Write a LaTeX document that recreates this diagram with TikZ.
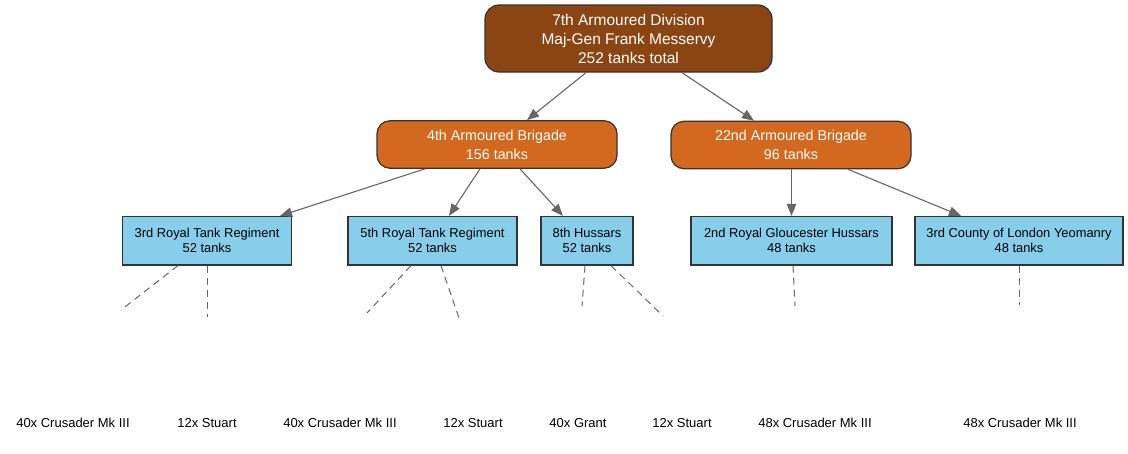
\documentclass[tikz,border=0pt]{standalone}
\usepackage{fontspec}
\setmainfont{Liberation Sans}
\usetikzlibrary{arrows.meta}
\definecolor{divfill}{HTML}{8B4513}
\definecolor{brigfill}{HTML}{D2691E}
\definecolor{regfill}{HTML}{87CEEB}
\definecolor{edgecol}{HTML}{666666}
\definecolor{bordercol}{HTML}{333333}
\tikzset{
  divbox/.style={draw=bordercol, line width=1.2pt, fill=divfill, rounded corners=14pt,
    text=white, align=center, inner sep=0pt, font=\fontsize{15.5}{19}\selectfont},
  brigbox/.style={draw=bordercol, line width=1.2pt, fill=brigfill, rounded corners=13pt,
    text=white, align=center, inner sep=0pt, minimum width=240pt, minimum height=47.5pt,
    font=\fontsize{14.3}{19}\selectfont},
  regbox/.style={draw=bordercol, line width=1.2pt, fill=regfill, text=black,
    align=center, inner sep=0pt, minimum height=48.5pt,
    font=\fontsize{12.9}{15}\selectfont},
  tanklabel/.style={text=black, inner sep=0pt, font=\fontsize{13}{15}\selectfont},
  solidedge/.style={draw=edgecol, line width=1.1pt, -{Triangle[length=12pt,width=9.5pt]}},
  dashedge/.style={draw=edgecol, line width=1pt, dash pattern=on 7pt off 5pt}
}
\begin{document}
\begin{tikzpicture}[x=1pt,y=-1pt]
\useasboundingbox[fill=white] (0,0) rectangle (1128,453);

% division
\node[divbox, minimum width=287pt, minimum height=67pt] (div) at (628.5,38.5)
  {7th Armoured Division\\Maj-Gen Frank Messervy\\252 tanks total};

% brigades
\node[brigbox] (b4) at (497,144.5) {4th Armoured Brigade\\156 tanks};
\node[brigbox] (b22) at (791,145) {22nd Armoured Brigade\\96 tanks};

% regiments
\node[regbox, minimum width=168.5pt] (r3) at (207,240.75) {3rd Royal Tank Regiment\\52 tanks};
\node[regbox, minimum width=169pt] (r5) at (432.5,240.75) {5th Royal Tank Regiment\\52 tanks};
\node[regbox, minimum width=92pt] (h8) at (587,240.75) {8th Hussars\\52 tanks};
\node[regbox, minimum width=201pt] (rgh) at (791.5,240.75) {2nd Royal Gloucester Hussars\\48 tanks};
\node[regbox, minimum width=208pt] (cly) at (1019,240.75) {3rd County of London Yeomanry\\48 tanks};

% tank labels
\node[tanklabel] (t1) at (73,423) {40x Crusader Mk III};
\node[tanklabel] (t2) at (207,423) {12x Stuart};
\node[tanklabel] (t3) at (340,423) {40x Crusader Mk III};
\node[tanklabel] (t4) at (473,423) {12x Stuart};
\node[tanklabel] (t5) at (578,423) {40x Grant};
\node[tanklabel] (t6) at (682,423) {12x Stuart};
\node[tanklabel] (t7) at (815,423) {48x Crusader Mk III};
\node[tanklabel] (t8) at (1020,423) {48x Crusader Mk III};

% free ends of dashed connectors
\coordinate (e1) at (121,310);
\coordinate (e2) at (207,317);
\coordinate (e3) at (367,313);
\coordinate (e4) at (459,318);
\coordinate (e5) at (582,306);
\coordinate (e6) at (663,316);
\coordinate (e7) at (795,306);
\coordinate (e8) at (1019,305);

% solid arrows
\draw[solidedge] ([xshift=-42.5pt]div.south) -- ([xshift=30pt]b4.north);
\draw[solidedge] ([xshift=53.5pt]div.south) -- ([xshift=-37pt]b22.north);
\draw[solidedge] ([xshift=-72pt]b4.south) -- ([xshift=73pt]r3.north);
\draw[solidedge] ([xshift=-17pt]b4.south) -- ([xshift=16.5pt]r5.north);
\draw[solidedge] ([xshift=23pt]b4.south) -- ([xshift=-24pt]h8.north);
\draw[solidedge] ([xshift=0.5pt]b22.south) -- (rgh.north);
\draw[solidedge] ([xshift=57pt]b22.south) -- ([xshift=-58pt]cly.north);

% dashed connectors
\draw[dashedge] ([xshift=-29pt]r3.south) -- (e1);
\draw[dashedge] (r3.south) -- (e2);
\draw[dashedge] ([xshift=-21.5pt]r5.south) -- (e3);
\draw[dashedge] ([xshift=8.5pt]r5.south) -- (e4);
\draw[dashedge] ([xshift=-2pt]h8.south) -- (e5);
\draw[dashedge] ([xshift=24pt]h8.south) -- (e6);
\draw[dashedge] ([xshift=1.5pt]rgh.south) -- (e7);
\draw[dashedge] (cly.south) -- (e8);
\end{tikzpicture}
\end{document}
